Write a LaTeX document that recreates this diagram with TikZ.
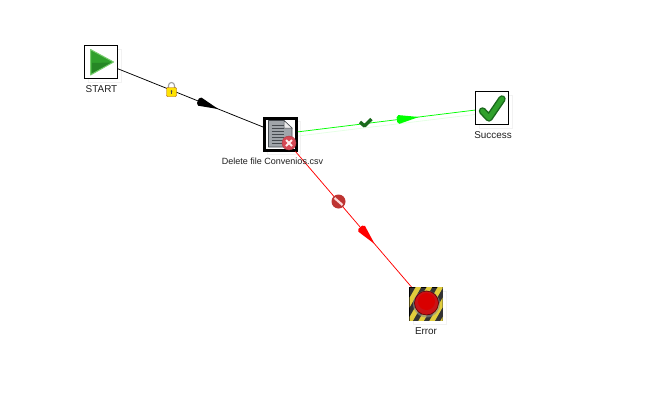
\documentclass[tikz,border=0pt]{standalone}
\usepackage{fontspec}
\setmainfont{Liberation Sans}
\usetikzlibrary{decorations.markings,shapes.geometric,calc}
\definecolor{hopgreen}{RGB}{0,255,0}
\definecolor{hopred}{RGB}{255,0,0}
\definecolor{ghost}{RGB}{242,242,242}
\definecolor{lbl}{RGB}{30,30,30}
\definecolor{leaf}{RGB}{48,160,44}
\definecolor{leafl}{RGB}{120,205,110}
\definecolor{leafd}{RGB}{26,105,28}
\definecolor{sheet}{RGB}{160,165,170}
\definecolor{sheetd}{RGB}{70,75,80}
\definecolor{badred}{RGB}{214,72,84}
\definecolor{stopred}{RGB}{190,52,50}
\definecolor{btnred}{RGB}{200,18,22}
\definecolor{hazard}{RGB}{225,205,60}
\tikzset{
  entry/.style={draw=black,line width=1pt,fill=white,minimum size=33pt,inner sep=0pt},
  entrywide/.style={entry,line width=3pt,minimum size=32pt},
  ghostbox/.style={draw=ghost,line width=1pt,minimum size=33pt,inner sep=0pt},
  caption/.style={font=\fontsize{9}{10}\selectfont,text=lbl,inner sep=0pt,anchor=center},
  bigcaption/.style={caption,font=\fontsize{9.9}{11}\selectfont},
  hop/.style={line width=.75pt},
  dart/.style={postaction={decorate,decoration={markings,mark=at position .615 with {\fill[#1] (-10,-2.4)--(-8,-4.4)--(12,0)--(-8,4.4)--(-10,2.4)--cycle;}}}},
  badge/.style={circle,minimum size=9pt,inner sep=0pt}
}
\begin{document}
\begin{tikzpicture}[x=1pt,y=-1pt]
\useasboundingbox (0,0) rectangle (659,405);
% ghost shadows
\node[ghostbox] at (105,66) {};
\node[ghostbox] at (284,138) {};
\node[ghostbox] at (496,112) {};
\node[ghostbox] at (430,308) {};
\draw[draw=hopgreen!10,line width=.8pt] (298,136)--(479,114);
% nodes
\node[entry] (start) at (101,62) {};
\node[entrywide] (del) at (280.5,134) {};
\node[entry] (succ) at (492,108) {};
\node[entry] (err) at (426,304) {};
% connectors
\draw[hop,black,dart=black] (start)--(del);
\draw[hop,hopgreen,dart=hopgreen] (del)--(succ);
\draw[hop,hopred,dart=hopred] (del)--(err);
% start icon
\fill[leaf,draw=leafl,line width=1pt,line join=round] (90.5,49.5)--(113.5,62)--(90.5,75)--cycle;
\fill[leafd!45!leaf] (92,63)--(111,62.5)--(92,73)--cycle;
% file icon
\fill[sheet,draw=sheetd,line width=.7pt,line join=round] (268.5,120.5)--(284,120.5)--(292,128)--(292,147)--(268.5,147)--cycle;
\fill[gray!15,draw=sheetd,line width=.5pt] (284,120.5)--(292,128)--(284,128)--cycle;
\foreach \yy in {125,128,131,134,137,140,143}{\draw[sheetd,line width=.6pt] (271.5,\yy)--(284,\yy);}
% delete badge
\node[badge,fill=badred,draw=badred!80!black,line width=.4pt,minimum size=14pt] (bad) at (289,143) {};
\draw[white!92!red,line width=2pt] (286,140)--(292,146) (292,140)--(286,146);
% success icon
\draw[leafd,line width=7.5pt,line cap=round,line join=round] (482.5,111)--(489,118)--(502,99);
\draw[leaf,line width=4.6pt,line cap=round,line join=round] (482.5,111)--(489,118)--(502,99);
% error icon
\fill[black!80] (409.5,287.5) rectangle (442.5,320.5);
\begin{scope}
\clip (409.5,287.5) rectangle (442.5,320.5);
\foreach \k in {-11,0,11,22,33,44}{\fill[hazard] (405+\k,325)--(410.5+\k,325)--(434.5+\k,283)--(429+\k,283)--cycle;}
\end{scope}
\node[circle,fill=black!45,minimum size=27pt,inner sep=0pt,opacity=.6] (rim) at (426.5,304) {};
\node[circle,fill=btnred,draw=red!35!black,line width=.6pt,minimum size=24pt,inner sep=0pt] (btn) at (426.5,303) {};
\fill[red!85!black] (426.5,301.5) circle (8.5);
% hop badges
\draw[gray!75,line width=1.1pt] (168.5,88)--(168.5,85.5) arc (180:360:3)--(174.5,88);
\node[draw=orange!65!black,fill=yellow!85!orange,line width=.4pt,rounded corners=1pt,minimum width=10pt,minimum height=9pt,inner sep=0pt] (lock) at (171.5,92) {};
\fill[black!70] (171.5,91) circle (1);
\draw[black!70,line width=.7pt] (171.5,91)--(171.5,94);
\draw[leafd,line width=3.4pt,line join=round] (360,122)--(364.5,126)--(371.5,119);
\node[badge,fill=stopred,minimum size=14pt] (stop) at (338.5,201.5) {};
\draw[white!85!red,line width=2.2pt] (334.5,198)--(342.5,205);
% captions
\node[bigcaption] (l1) at (101.5,88.8) {START};
\node[caption] (l2) at (272.5,160.8) {Delete file Convenios.csv};
\node[bigcaption] (l3) at (493,134.8) {Success};
\node[bigcaption] (l4) at (426,330.8) {Error};
\end{tikzpicture}
\end{document}
